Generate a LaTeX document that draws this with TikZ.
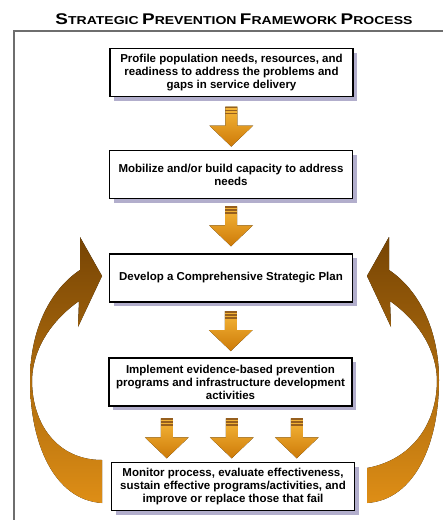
\documentclass[tikz,border=0pt]{standalone}
\usepackage{fontspec}
\setmainfont{Liberation Sans}
\newfontfamily\titlefont{Liberation Sans}[FakeStretch=1.22]
\usetikzlibrary{calc,shadows}

\definecolor{boxshadow}{RGB}{178,174,204}
\definecolor{arrowlight}{RGB}{246,184,58}
\definecolor{arrowdark}{RGB}{205,122,8}
\definecolor{curvetop}{RGB}{118,68,4}
\definecolor{curvebottom}{RGB}{222,142,22}
\definecolor{stripe}{RGB}{150,95,30}
\definecolor{frameline}{RGB}{110,110,110}

\newcommand{\capsword}[2]{{\fontsize{15.5}{16}\selectfont #1}{\fontsize{11.5}{16}\selectfont #2}}

\begin{document}
\begin{tikzpicture}[x=1pt,y=-1pt,
    stepbox/.style={draw=black, line width=1.2pt, fill=white,
        minimum width=243pt, minimum height=48pt,
        align=center, inner sep=0pt,
        font=\bfseries\fontsize{11.5}{13}\selectfont,
        drop shadow={shadow xshift=4pt, shadow yshift=-4pt, fill=boxshadow, opacity=1}},
    pics/downarr/.style={code={
        \fill[top color=arrowlight, bottom color=arrowdark]
            (-6,-20) -- (6,-20) -- (6,-1) -- (22,-1) -- (0,20) -- (-22,-1) -- (-6,-1) -- cycle;
        \foreach \s in {-20,-17,-14}
            \fill[stripe] (-6,\s) rectangle (6,\s+1.5);
    }}]

    % Fix the size of the picture
    \useasboundingbox (0,0) rectangle (443,520);

    % Draw the title and the frame
    \node (title) at (234,19) {\titlefont\bfseries\capsword{S}{TRATEGIC} \capsword{P}{REVENTION} \capsword{F}{RAMEWORK} \capsword{P}{ROCESS}};
    \draw[frameline, line width=1.5pt] (443,31) -- (14,31) -- (14,520);

    % Draw the curved arrows back to the plan
    \fill[top color=curvetop, bottom color=curvebottom]
        (102,503) .. controls (55,500) and (30,445) .. (30,380)
        .. controls (30,330) and (50,290) .. (80,270)
        -- (80,237) -- (102,276) -- (78,327) -- (79,301)
        .. controls (55,318) and (33,345) .. (32,380)
        .. controls (32,425) and (58,460) .. (102,460) -- cycle;
    \begin{scope}[xshift=469pt, xscale=-1]
        \fill[top color=curvetop, bottom color=curvebottom]
            (102,503) .. controls (55,500) and (30,445) .. (30,380)
            .. controls (30,330) and (50,290) .. (80,270)
            -- (80,237) -- (102,276) -- (78,327) -- (79,301)
            .. controls (55,318) and (33,345) .. (32,380)
            .. controls (32,425) and (58,460) .. (102,468) -- cycle;
    \end{scope}

    % Draw the steps
    \node[stepbox] (profile) at (231.5,72.5) {Profile population needs, resources, and\\ readiness to address the problems and\\ gaps in service delivery};
    \node[stepbox] (mobilize) at (231,174.5) {Mobilize and/or build capacity to address\\ needs};
    \node[stepbox] (plan) at (231,278) {Develop a Comprehensive Strategic Plan};
    \node[stepbox] (implement) at (230.5,382) {Implement evidence-based prevention\\ programs and infrastructure development\\ activities};
    \node[stepbox] (monitor) at (233,486.5) {Monitor process, evaluate effectiveness,\\ sustain effective programs/activities, and\\ improve or replace those that fail};

    % Draw the arrows between the steps
    \pic at ($(profile.south)!0.5!(mobilize.north)+(0,3)$) {downarr};
    \pic at ($(mobilize.south)!0.5!(plan.north)$) {downarr};
    \pic at ($(plan.south)!0.5!(implement.north)+(0,1)$) {downarr};
    \foreach \dx in {-65,0,65}
        \pic at ($(implement.south)!0.5!(monitor.north)+(\dx,4)$) {downarr};

\end{tikzpicture}
\end{document}
